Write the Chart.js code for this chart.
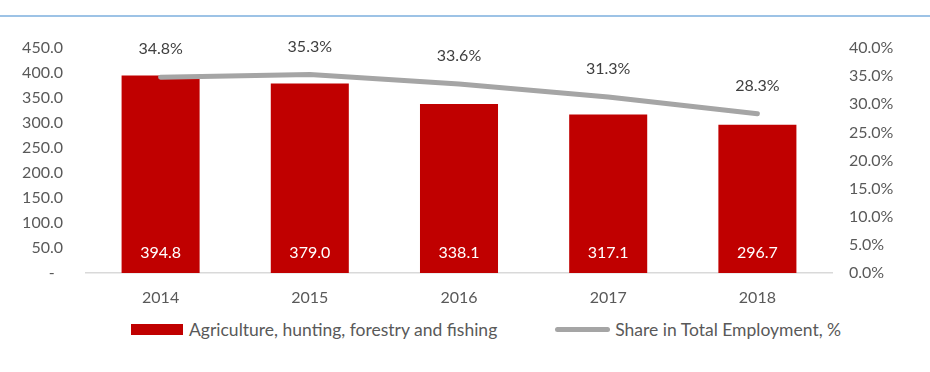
<!DOCTYPE html>
<html>
<head>
<meta charset="utf-8">
<script src="https://cdn.jsdelivr.net/npm/chart.js@4.4.1/dist/chart.umd.min.js"></script>
<style>
  body { margin: 0; background: #fff; }
  #wrap { position: relative; width: 930px; height: 372px; font-family: Lato, sans-serif; }
  #topRule { position: absolute; left: 0; top: 15px; width: 930px; height: 2px; background: #9dc3e6; }
  #chartBox { position: absolute; left: 0; top: 0; width: 930px; height: 310px; }
  #legend { position: absolute; left: 131px; top: 319px; height: 20px; display: flex; align-items: center;
            font-size: 17.5px; color: #595959; white-space: nowrap; }
  .item { display: flex; align-items: center; }
  .item + .item { margin-left: 58px; }
  .swatch { display: inline-block; margin-right: 6px; }
</style>
</head>
<body>
<div id="wrap">
  <div id="topRule"></div>
  <div id="chartBox"><canvas id="empChart" width="930" height="310"></canvas></div>
  <div id="legend"></div>
</div>
<script>
// Datos del gráfico
const years = ["2014", "2015", "2016", "2017", "2018"];
const employed = [394.8, 379.0, 338.1, 317.1, 296.7];   // miles de personas
const sharePct = [34.8, 35.3, 33.6, 31.3, 28.3];         // % del empleo total
const barLabel = "Agriculture, hunting, forestry and fishing";
const lineLabel = "Share in Total Employment, %";

const RED = "#c00000";
const GREY = "#a5a5a5";
const TEXT = "#595959";

// Etiquetas de valores: dentro de la barra abajo, y sobre la línea
const valueLabels = {
  id: "valueLabels",
  afterDatasetsDraw(chart) {
    const ctx = chart.ctx;
    ctx.save();
    ctx.font = "16px Lato, sans-serif";
    ctx.textAlign = "center";
    ctx.textBaseline = "middle";
    chart.data.datasets.forEach(function (ds, i) {
      const meta = chart.getDatasetMeta(i);
      meta.data.forEach(function (el, j) {
        const v = ds.data[j];
        if (ds.type === "bar") {
          ctx.fillStyle = "#ffffff";
          ctx.fillText(v.toFixed(1), el.x, el.base - 20);
        } else {
          ctx.fillStyle = "#404040";
          ctx.fillText(v.toFixed(1) + "%", el.x, el.y - 28);
        }
      });
    });
    ctx.restore();
  },
};

Chart.defaults.font.family = "Lato, sans-serif";
Chart.defaults.font.size = 16;
Chart.defaults.color = TEXT;

const chart = new Chart(document.getElementById("empChart"), {
  data: {
    labels: years,
    datasets: [
      {
        type: "line",
        label: lineLabel,
        data: sharePct,
        yAxisID: "y1",
        borderColor: GREY,
        backgroundColor: GREY,
        borderWidth: 5,
        borderCapStyle: "round",
        borderJoinStyle: "round",
        pointRadius: 0,
        tension: 0,
        order: 0,
      },
      {
        type: "bar",
        label: barLabel,
        data: employed,
        yAxisID: "y",
        backgroundColor: RED,
        categoryPercentage: 1,
        barPercentage: 0.523,
        order: 1,
      },
    ],
  },
  options: {
    responsive: false,
    animation: false,
    layout: { padding: { top: 48, left: 0, right: 0, bottom: 0 } },
    plugins: {
      legend: { display: false },
      tooltip: { enabled: false },
    },
    scales: {
      x: {
        grid: { display: false, drawTicks: false },
        border: { display: true, color: "#d9d9d9", width: 1.5 },
        ticks: { padding: 15, color: TEXT },
        afterFit(scale) { scale.height = 37; },
      },
      y: {
        position: "left",
        min: 0,
        max: 450,
        grid: { display: false, drawTicks: false },
        border: { display: false },
        ticks: {
          stepSize: 50,
          padding: 23,
          color: TEXT,
          callback: function (v) { return v === 0 ? "-  " : v.toFixed(1); },
        },
        afterFit(scale) { scale.width = 86; },
      },
      y1: {
        position: "right",
        min: 0,
        max: 40,
        grid: { display: false, drawTicks: false },
        border: { display: false },
        ticks: {
          stepSize: 5,
          padding: 17,
          color: TEXT,
          callback: function (v) { return v.toFixed(1) + "%"; },
        },
        afterFit(scale) { scale.width = 98; },
      },
    },
  },
  plugins: [valueLabels],
});

// Leyenda en HTML, en el orden barra y luego línea
function buildLegend() {
  const box = document.getElementById("legend");
  const items = chart.data.datasets.slice().sort(function (a, b) { return b.order - a.order; });
  items.forEach(function (ds) {
    const item = document.createElement("span");
    item.className = "item";
    const sw = document.createElement("span");
    sw.className = "swatch";
    if (ds.type === "bar") {
      sw.style.cssText = "width:52px;height:11px;background:" + ds.backgroundColor;
    } else {
      sw.style.cssText = "width:55px;height:5px;border-radius:3px;margin-right:5px;background:" + ds.borderColor;
    }
    const txt = document.createElement("span");
    txt.textContent = ds.label;
    item.appendChild(sw);
    item.appendChild(txt);
    box.appendChild(item);
  });
}
buildLegend();
</script>
</body>
</html>
